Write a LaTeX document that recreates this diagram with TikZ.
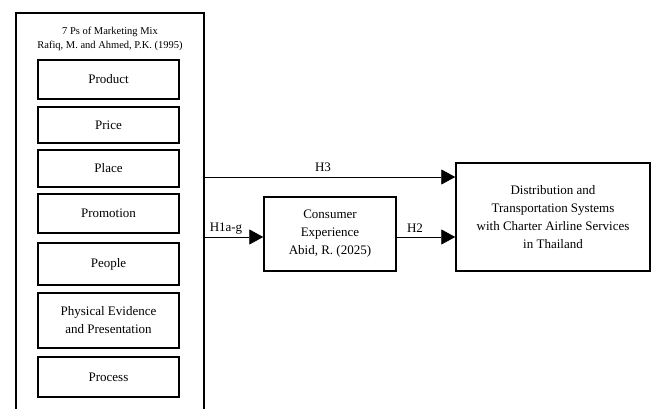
\documentclass[tikz,border=0pt]{standalone}
\usepackage{fontspec}
\setmainfont{Liberation Serif}
\usetikzlibrary{arrows.meta}
\begin{document}
\begin{tikzpicture}[x=1pt,y=-1pt,
  box/.style={draw,line width=1.5pt,rectangle,inner sep=0pt,align=center,font=\fontsize{13}{18}\selectfont},
  pbox/.style={box,minimum width=141pt},
  arr/.style={line width=0.9pt,-{Triangle[length=14pt,width=15pt]}},
  lbl/.style={font=\fontsize{13}{16}\selectfont,inner sep=0pt}]
\useasboundingbox (0,0) rectangle (651,409);
\begin{scope}
\clip (0,0) rectangle (651,409);
\node[draw,line width=1.5pt,rectangle,inner sep=0pt,minimum width=188pt,minimum height=420pt] (outer) at (110,223) {};
\end{scope}
\node[align=center,inner sep=0pt,font=\fontsize{10.5}{14}\selectfont] (title) at (110,39) {7 Ps of Marketing Mix\\Rafiq, M. and Ahmed, P.K. (1995)};
\node[pbox,minimum height=39pt] (product) at (108.5,79.5) {Product};
\node[pbox,minimum height=36pt] (price) at (108.5,125) {Price};
\node[pbox,minimum height=37pt] (place) at (108.5,168.5) {Place};
\node[pbox,minimum height=39pt] (promotion) at (108.5,213.5) {Promotion};
\node[pbox,minimum height=42pt] (people) at (108.5,264) {People};
\node[pbox,minimum height=55pt] (physical) at (108.5,320.5) {Physical Evidence\\and Presentation};
\node[pbox,minimum height=40pt] (process) at (108.5,377) {Process};
\node[box,minimum width=132pt,minimum height=74pt] (consumer) at (330,234) {Consumer\\Experience\\Abid, R. (2025)};
\node[box,minimum width=194pt,minimum height=108pt] (dist) at (553,217) {Distribution and\\Transportation Systems\\with Charter Airline Services\\in Thailand};
\coordinate (h3s) at (outer.east |- 0,177);
\coordinate (h1s) at (outer.east |- 0,237);
\draw[arr] (h3s) -- (h3s -| dist.west);
\draw[arr] (h1s) -- (h1s -| consumer.west);
\draw[arr] (h1s -| consumer.east) -- (h1s -| dist.west);
\node[lbl] (l3) at (323,167) {H3};
\node[lbl] (l1) at (226,229) {H1a-g};
\node[lbl] (l2) at (415,228) {H2};
\end{tikzpicture}
\end{document}
